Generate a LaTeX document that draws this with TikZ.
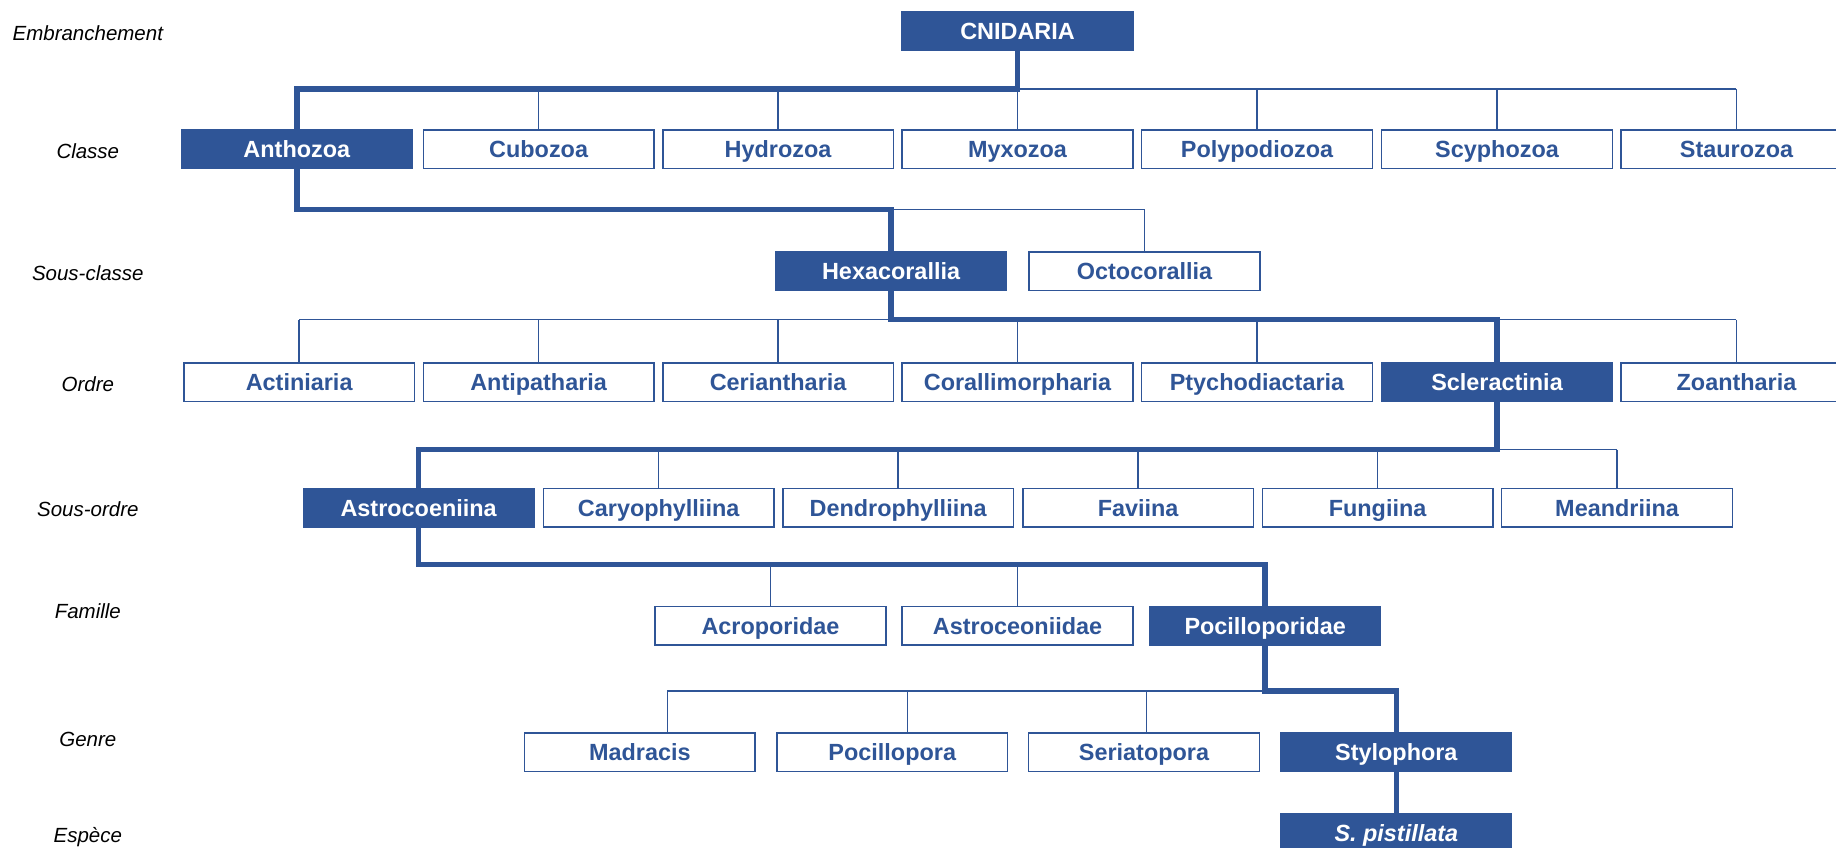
\documentclass[tikz,border=0pt]{standalone}
\usepackage{fontspec}
\setmainfont{Liberation Sans}
\usetikzlibrary{calc}
\definecolor{cblue}{HTML}{2F5597}
\tikzset{
  taxon/.style={draw=cblue, line width=1.3pt, minimum width=197pt, minimum height=33pt,
    inner sep=0pt, text height=14.4pt, text depth=0pt,
    font=\fontsize{20}{24}\selectfont\bfseries, text=cblue, fill=white},
  chosen/.style={taxon, fill=cblue, text=white},
  rank/.style={font=\fontsize{17.5}{21}\selectfont\itshape, text=black,
    text height=12.6pt, text depth=0pt},
  branch/.style={draw=cblue, line width=1.3pt},
  trunk/.style={draw=cblue, line width=4.8pt},
}
\begin{document}
\begin{tikzpicture}[x=1pt,y=-1pt]
\useasboundingbox (0,0) rectangle (1568,724);
\clip (0,0) rectangle (1568,724);
% rank labels
\node[rank] (rEmb) at (75,28) {Embranchement};
\node[rank] (rCla) at (75,129) {Classe};
\node[rank] (rSC) at (75,233) {Sous-classe};
\node[rank] (rOrd) at (75,328) {Ordre};
\node[rank] (rSO) at (75,435) {Sous-ordre};
\node[rank] (rFam) at (75,522) {Famille};
\node[rank] (rGen) at (75,631) {Genre};
\node[rank] (rEsp) at (75,713) {Espèce};
% bus coordinates
\coordinate (busA) at (0,76);
\coordinate (busB) at (0,179);
\coordinate (busC) at (0,273);
\coordinate (busD) at (0,384);
\coordinate (busE) at (0,482);
\coordinate (busF) at (0,590);
% nodes
\node[chosen] (cnidaria) at (869,26.5) {CNIDARIA};
\node[chosen] (anthozoa) at (253.5,127.5) {Anthozoa};
\node[taxon] (cubozoa) at (460,127.5) {Cubozoa};
\node[taxon] (hydrozoa) at (664.5,127.5) {Hydrozoa};
\node[taxon] (myxozoa) at (869,127.5) {Myxozoa};
\node[taxon] (polypodiozoa) at (1073.5,127.5) {Polypodiozoa};
\node[taxon] (scyphozoa) at (1278.5,127.5) {Scyphozoa};
\node[taxon] (staurozoa) at (1483,127.5) {Staurozoa};
\node[chosen] (hexacorallia) at (761,231.5) {Hexacorallia};
\node[taxon] (octocorallia) at (977.5,231.5) {Octocorallia};
\node[taxon] (actiniaria) at (255.5,326.5) {Actiniaria};
\node[taxon] (antipatharia) at (460,326.5) {Antipatharia};
\node[taxon] (ceriantharia) at (664.5,326.5) {Ceriantharia};
\node[taxon] (corallimorpharia) at (869,326.5) {Corallimorpharia};
\node[taxon] (ptychodiactaria) at (1073.5,326.5) {Ptychodiactaria};
\node[chosen] (scleractinia) at (1278.5,326.5) {Scleractinia};
\node[taxon] (zoantharia) at (1483,326.5) {Zoantharia};
\node[chosen] (astrocoeniina) at (357.5,433.5) {Astrocoeniina};
\node[taxon] (caryophylliina) at (562.5,433.5) {Caryophylliina};
\node[taxon] (dendrophylliina) at (767,433.5) {Dendrophylliina};
\node[taxon] (faviina) at (972,433.5) {Faviina};
\node[taxon] (fungiina) at (1176.5,433.5) {Fungiina};
\node[taxon] (meandriina) at (1381,433.5) {Meandriina};
\node[taxon] (acroporidae) at (658,534.5) {Acroporidae};
\node[taxon] (astroceoniidae) at (869,534.5) {Astroceoniidae};
\node[chosen] (pocilloporidae) at (1080.5,534.5) {Pocilloporidae};
\node[taxon] (madracis) at (546.5,642.5) {Madracis};
\node[taxon] (pocillopora) at (762,642.5) {Pocillopora};
\node[taxon] (seriatopora) at (977,642.5) {Seriatopora};
\node[chosen] (stylophora) at (1192.5,642.5) {Stylophora};
\node[chosen] (spistillata) at (1192.5,711.5) {\textit{S. pistillata}};
% off-centre attachment points of the genus row
\coordinate (madTop) at ($(madracis.north)+(23.5,0)$);
\coordinate (pocTop) at ($(pocillopora.north)+(13,0)$);
\coordinate (serTop) at ($(seriatopora.north)+(2,0)$);
% thin branches
\draw[branch] (anthozoa.north |- busA) -- (staurozoa.north |- busA);
\foreach \n in {cubozoa,hydrozoa,myxozoa,polypodiozoa,scyphozoa,staurozoa}
  \draw[branch] (\n.north |- busA) -- (\n.north);
\draw[branch] (hexacorallia.north |- busB) -| (octocorallia.north);
\draw[branch] (actiniaria.north |- busC) -- (zoantharia.north |- busC);
\foreach \n in {actiniaria,antipatharia,ceriantharia,corallimorpharia,ptychodiactaria,zoantharia}
  \draw[branch] (\n.north |- busC) -- (\n.north);
\draw[branch] (astrocoeniina.north |- busD) -- (meandriina.north |- busD);
\foreach \n in {caryophylliina,dendrophylliina,faviina,fungiina,meandriina}
  \draw[branch] (\n.north |- busD) -- (\n.north);
\foreach \n in {acroporidae,astroceoniidae}
  \draw[branch] (\n.north |- busE) -- (\n.north);
\draw[branch] (madTop |- busF) -- (pocilloporidae.south |- busF);
\foreach \n in {madTop,pocTop,serTop}
  \draw[branch] (\n |- busF) -- (\n);
% thick lineage
\draw[trunk] (cnidaria.south) |- (anthozoa.north |- busA) -- (anthozoa.north);
\draw[trunk] (anthozoa.south) |- (hexacorallia.north |- busB) -- (hexacorallia.north);
\draw[trunk] (hexacorallia.south) |- (scleractinia.north |- busC) -- (scleractinia.north);
\draw[trunk] (scleractinia.south) |- (astrocoeniina.north |- busD) -- (astrocoeniina.north);
\draw[trunk] (astrocoeniina.south) |- (pocilloporidae.north |- busE) -- (pocilloporidae.north);
\draw[trunk] (pocilloporidae.south) |- (stylophora.north |- busF) -- (stylophora.north);
\draw[trunk] (stylophora.south) -- (spistillata.north);
\end{tikzpicture}
\end{document}
